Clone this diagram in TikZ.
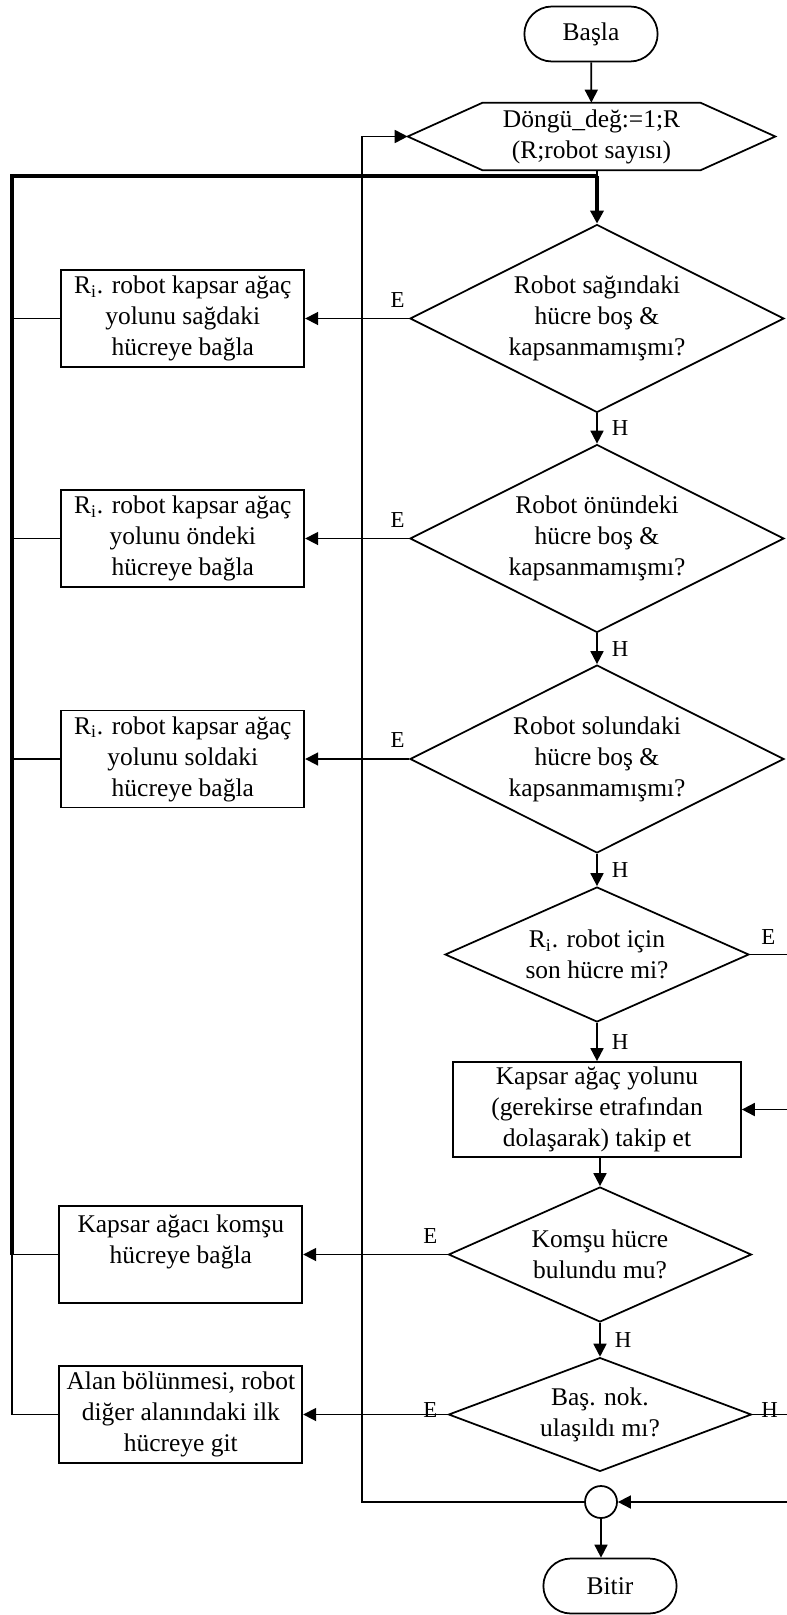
\documentclass[tikz,border=0pt]{standalone}
\usepackage{fontspec}
\setmainfont{Liberation Serif}
\usetikzlibrary{shapes.geometric, shapes.misc, arrows.meta, positioning}

\begin{document}
\begin{tikzpicture}[
    x=0.02cm, y=-0.02cm,
    every node/.style={font=\fontsize{14.5}{17.6}\selectfont},
    terminal/.style={rounded rectangle, draw, line width=1pt, minimum width=2.9cm, minimum height=1.1cm},
    hexa/.style={rectangle, inner sep=0pt, align=center, minimum width=7.34cm, minimum height=1.34cm},
    decision/.style={diamond, draw, line width=1pt, aspect=2, inner sep=0pt, align=center},
    process/.style={rectangle, draw, line width=1pt, inner sep=0.5pt, align=center, minimum width=4.86cm, minimum height=1.94cm},
    junction/.style={circle, draw, line width=1pt, minimum size=0.64cm, inner sep=0pt},
    lbl/.style={font=\fontsize{13}{15}\selectfont, inner sep=1pt},
    line/.style={line width=1pt},
    busline/.style={line width=2pt},
    arrow/.style={-{Triangle[length=2.6mm, width=2.6mm]}, line width=1pt}
]
\useasboundingbox (0,0) rectangle (787,1615);

% Main column
\node[terminal] (basla) at (591,34) {Başla};
\node[hexa] (init) at (591.5,136.5) {Döngü\_değ:=1;R\\(R;robot sayısı)};
\draw[line] ([xshift=1.5cm]init.north west) -- ([xshift=-1.5cm]init.north east) -- (init.east)
    -- ([xshift=-1.5cm]init.south east) -- ([xshift=1.5cm]init.south west) -- (init.west) -- cycle;
\node[decision, minimum width=7.48cm, minimum height=3.76cm] (d1) at (597,318.5) {Robot sağındaki\\hücre boş \&\\kapsanmamışmı?};
\node[decision, minimum width=7.48cm, minimum height=3.76cm] (d2) at (597,538.5) {Robot önündeki\\hücre boş \&\\kapsanmamışmı?};
\node[decision, minimum width=7.48cm, minimum height=3.76cm] (d3) at (597,759) {Robot solundaki\\hücre boş \&\\kapsanmamışmı?};
\node[decision, minimum width=6.08cm, minimum height=2.7cm] (d4) at (597,954.5) {R\textsubscript{i}. robot için\\son hücre mi?};
\node[process, minimum width=5.76cm, minimum height=1.9cm] (takip) at (597,1109.5) {Kapsar ağaç yolunu\\(gerekirse etrafından\\dolaşarak) takip et};
\node[decision, minimum width=6.06cm, minimum height=2.7cm] (d5) at (600,1254.5) {Komşu hücre\\bulundu mu?};
\node[decision, minimum width=6.06cm, minimum height=2.26cm] (d6) at (600,1414.5) {Baş. nok.\\ulaşıldı mı?};
\node[junction] (circ) at (601,1502) {};
\node[terminal] (bitir) at (610,1586) {Bitir};

% Left column
\node[process, left=2.08cm of d1] (b1) {R\textsubscript{i}. robot kapsar ağaç\\yolunu sağdaki\\hücreye bağla};
\node[process, left=2.08cm of d2] (b2) {R\textsubscript{i}. robot kapsar ağaç\\yolunu öndeki\\hücreye bağla};
\node[process, left=2.08cm of d3] (b3) {R\textsubscript{i}. robot kapsar ağaç\\yolunu soldaki\\hücreye bağla};
\node[process, left=2.89cm of d5] (komsu) {Kapsar ağacı komşu\\hücreye bağla\\\mbox{}};
\node[process, left=2.89cm of d6] (alan) {Alan bölünmesi, robot\\diğer alanındaki ilk\\hücreye git};

% Helper coordinates
\coordinate (bus) at (12,0);
\coordinate (loop) at (362,0);
\coordinate (edge) at (787,0);
\coordinate (jn) at (597,176);

% Main flow
\draw[arrow] (basla) -- (init);
\draw[line] (jn |- init.south) -- (jn);
\draw[busline] (jn) -- (jn -| bus) -- (komsu -| bus);
\draw[line] (komsu -| bus) -- (alan -| bus);
\draw[arrow, busline] (jn) -- (d1);
\draw[arrow] (d1) -- node[lbl, right=7pt] {H} (d2);
\draw[arrow] (d2) -- node[lbl, right=7pt] {H} (d3);
\draw[arrow] (d3) -- node[lbl, right=7pt] {H} (d4);
\draw[arrow] (d4) -- node[lbl, right=7pt] {H} (takip);
\draw[arrow] (takip.south -| d5) -- (d5);
\draw[arrow] (d5) -- node[lbl, right=7pt] {H} (d6);
\draw[arrow] (circ) -- (circ |- bitir.north);

% Yes branches to the left
\draw[arrow] (d1) -- node[lbl, above=5pt, pos=.11] {E} (b1);
\draw[arrow] (d2) -- node[lbl, above=5pt, pos=.11] {E} (b2);
\draw[arrow] (d3) -- node[lbl, above=5pt, pos=.11] {E} (b3);
\draw[arrow] (d5) -- node[lbl, above=5pt, pos=.12] {E} (komsu);
\draw[arrow] (d6) -- node[lbl, anchor=base, yshift=-1.5pt, pos=.12] {E} (alan);
\draw[line] (b1.west) -- (b1 -| bus);
\draw[line] (b2.west) -- (b2 -| bus);
\draw[line] (b3.west) -- (b3 -| bus);
\draw[line] (komsu.west) -- (komsu -| bus);
\draw[line] (alan.west) -- (alan -| bus);

% Right side
\draw[line] (d4) -- node[lbl, above=4pt] {E} (d4 -| edge);
\draw[arrow] (takip -| edge) -- (takip);
\draw[line] (d6) -- node[lbl, anchor=base, yshift=-1.5pt] {H} (d6 -| edge);
\draw[arrow] (circ -| edge) -- (circ);

% Loop back
\draw[arrow] (circ) -- (circ -| loop) |- (init.west);

\end{tikzpicture}
\end{document}
